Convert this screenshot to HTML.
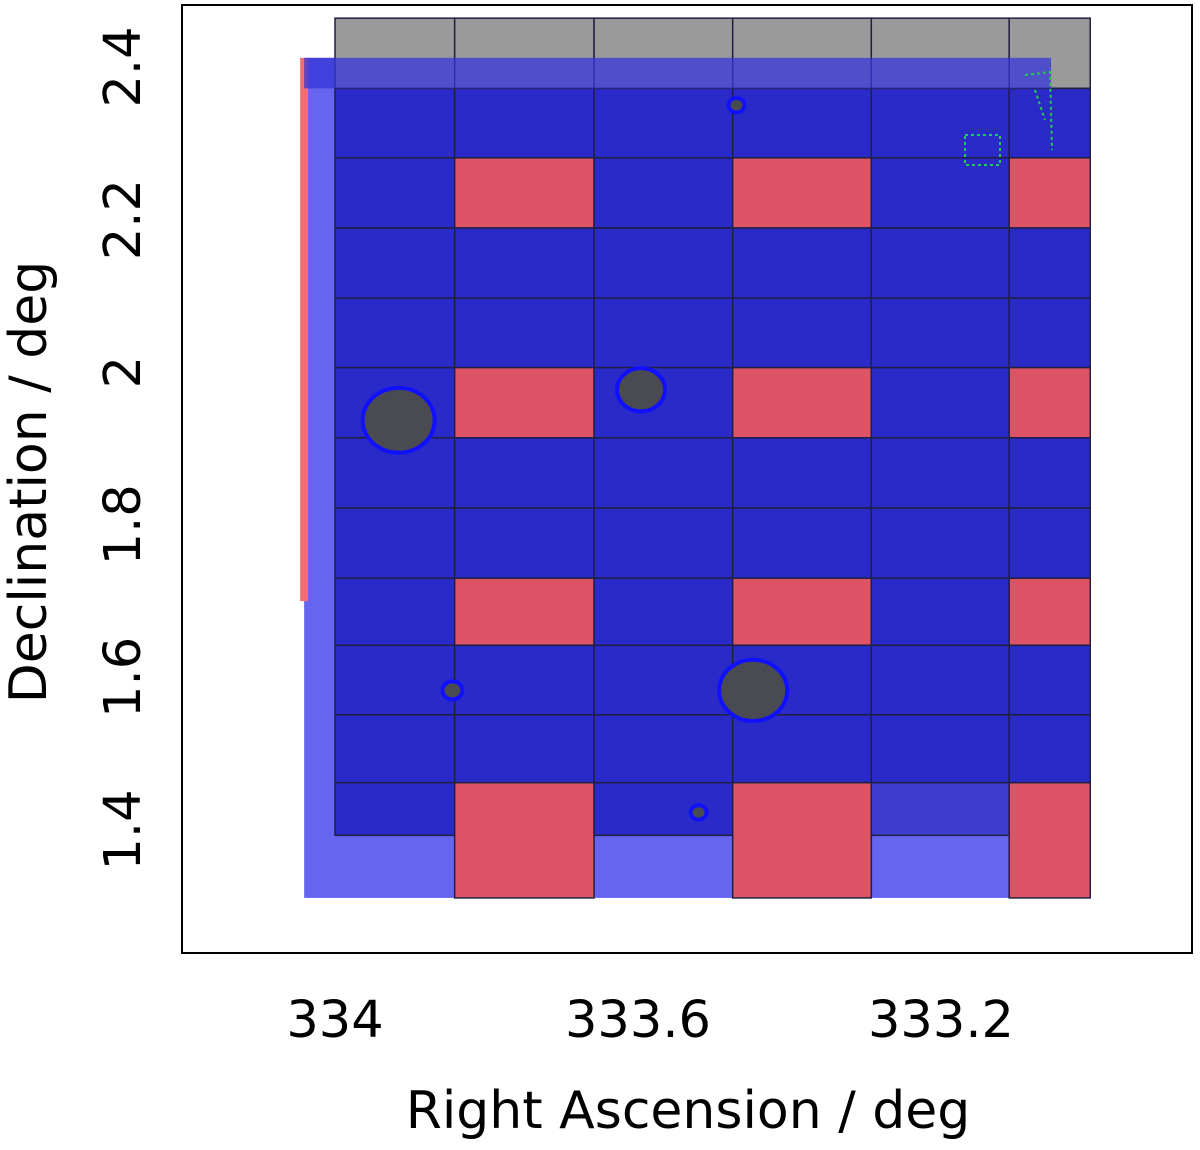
<!DOCTYPE html>
<html><head><meta charset="utf-8"><style>
body{margin:0;background:#fff;width:1200px;height:1146px;overflow:hidden;font-family:"DejaVu Sans","Liberation Sans",sans-serif}
</style></head><body>
<svg id="chart" width="1200" height="1146" viewBox="0 0 1200 1146" xmlns="http://www.w3.org/2000/svg">
<g id="plot"></g>
<rect x="182" y="5" width="1010" height="948" fill="none" stroke="#000" stroke-width="2"/>
<g id="ticks" font-size="51" fill="#000" font-family="DejaVu Sans, sans-serif"></g>
<text x="688" y="1128" font-size="52" text-anchor="middle" font-family="DejaVu Sans, sans-serif">Right Ascension / deg</text>
<text transform="translate(46,482) rotate(-90)" font-size="52" text-anchor="middle" font-family="DejaVu Sans, sans-serif">Declination / deg</text>
</svg>
<script>
const tileRA=[334.0,333.842,333.658,333.475,333.292,333.110,333.003];
const tileDec=[2.464,2.372,2.281,2.189,2.097,2.006,1.914,1.822,1.730,1.642,1.551,1.462,1.393];
const redCols=[1,3,5];
const redRows=[2,5,8,11];
const cloudRA=[334.046,333.003];
const cloudDec=[2.412,1.311];
const xTicks=[334,333.6,333.2];
const xTickLabels=["334","333.6","333.2"];
const yTicks=[2.4,2.2,2.0,1.8,1.6,1.4];
const yTickLabels=["2.4","2.2","2","1.8","1.6","1.4"];
const holeRA=[333.916,333.596,333.448,333.845,333.470,333.520];
const holeDec=[1.937,1.977,1.583,1.583,2.350,1.423];
const holeR=[36,24,34,10,8,8];

const NS="http://www.w3.org/2000/svg";
const x=ra=>335+(334-ra)*757.5;
const y=d=>67+(2.4-d)*763;
const plot=document.getElementById('plot');
function mk(t,a,p){const e=document.createElementNS(NS,t);for(const k in a)e.setAttribute(k,a[k]);(p||plot).appendChild(e);return e;}

let c=mk('rect',{x:x(cloudRA[0])+4,y:y(cloudDec[0]),width:x(cloudRA[1])-x(cloudRA[0])-4,height:y(cloudDec[1])-y(cloudDec[0]),fill:'#6565f0'});


let rs=mk('rect',{x:x(cloudRA[0]),y:y(cloudDec[0]),width:8,height:y(1.70)-y(cloudDec[0]),fill:'#ee7070'});



for(let i=0;i<tileRA.length-1;i++){
  for(let j=0;j<tileDec.length-1;j++){
    const x0=x(tileRA[i]),x1=x(tileRA[i+1]),y0=y(tileDec[j]);
    let y1=y(tileDec[j+1]);
    let fill='#2a2ac8';
    if(j===0) fill='#9a9a9a';
    if(redCols.includes(i)&&redRows.includes(j)) fill='#dc5466';
    if(j===11 && redCols.includes(i)) y1=y(cloudDec[1]);
    if(j===11 && i===4) fill='#3c3cd0';
    const r=mk('rect',{x:x0,y:y0,width:x1-x0,height:y1-y0,fill:fill,stroke:'#202040','stroke-width':1.5});
    
    
  }
}
let tb=mk('rect',{x:x(cloudRA[0])+4,y:y(cloudDec[0]),width:x(333.06)-x(cloudRA[0]),height:y(2.372)-y(cloudDec[0]),fill:'#3535d8',opacity:0.75});


for(let k=0;k<holeRA.length;k++){
  const h=mk('ellipse',{cx:x(holeRA[k]),cy:y(holeDec[k]),rx:holeR[k],ry:holeR[k]*0.9,fill:'#4a4a52',stroke:'#1010ff','stroke-width':4});
  
  
}
let g=mk('path',{d:'M1025 75 L1050 72 L1052 150 M1035 90 L1045 120 M965 135 L1000 135 L1000 165 L965 165 Z',fill:'none',stroke:'#22cc44','stroke-width':2,'stroke-dasharray':'3 3'});



const tk=document.getElementById('ticks');
xTicks.forEach((v,i)=>{const t=mk('text',{x:x(v),y:1037,'text-anchor':'middle'},tk);t.textContent=xTickLabels[i];

});
yTicks.forEach((v,i)=>{const t=mk('text',{transform:`translate(140,${y(v)}) rotate(-90)`,'text-anchor':'middle'},tk);t.textContent=yTickLabels[i];

});
</script>
</body></html>
